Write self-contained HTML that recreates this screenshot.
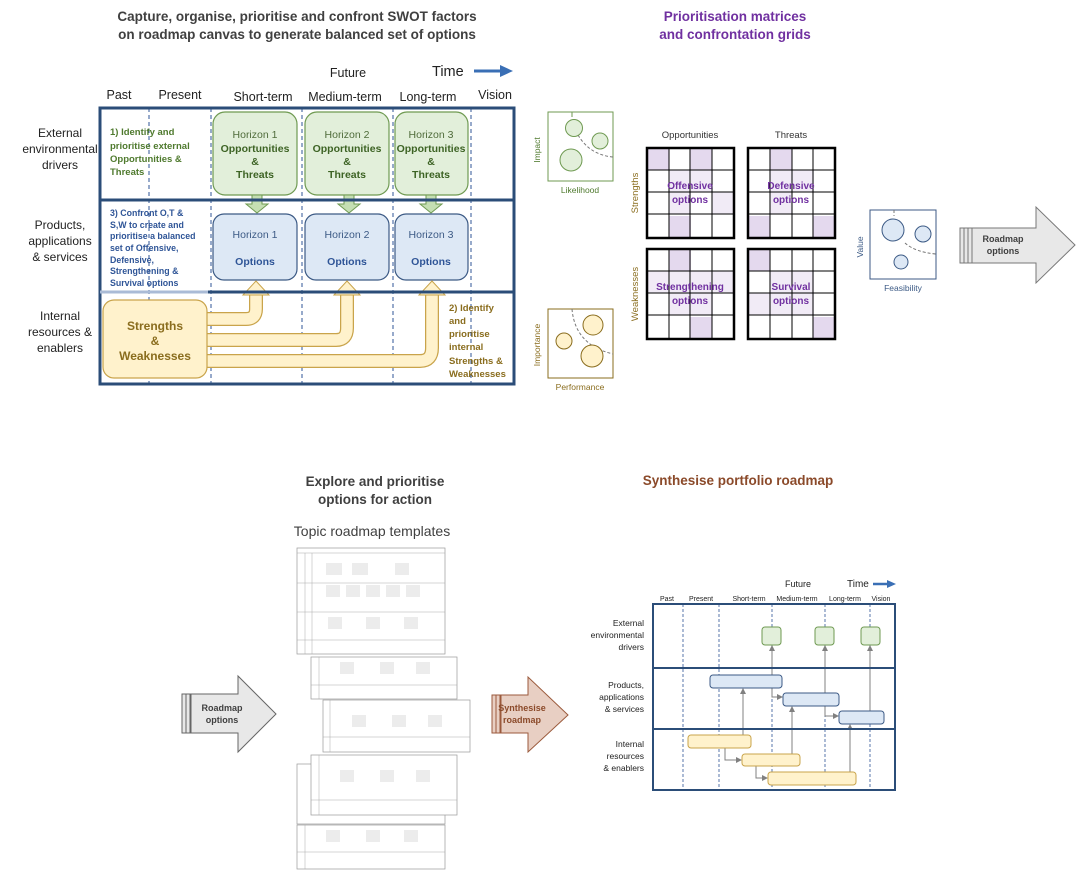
<!DOCTYPE html>
<html><head><meta charset="utf-8"><style>
body{margin:0;background:#fff}
svg{display:block;font-family:"Liberation Sans",sans-serif}
</style></head><body>
<svg width="1083" height="874" viewBox="0 0 1083 874" xmlns="http://www.w3.org/2000/svg">
<defs>
<marker id="ga" markerWidth="6" markerHeight="6" refX="5" refY="3" orient="auto"><path d="M0,0L6,3L0,6z" fill="#808080"/></marker>
</defs>
<g font-weight="bold" font-size="13.5" fill="#404040" text-anchor="middle">
<text x="297" y="21">Capture, organise, prioritise and confront SWOT factors</text>
<text x="297" y="39">on roadmap canvas to generate balanced set of options</text>
<text x="375" y="486">Explore and prioritise</text>
<text x="375" y="504">options for action</text>
</g>
<g font-weight="bold" font-size="13.5" fill="#7030a0" text-anchor="middle">
<text x="735" y="21">Prioritisation matrices</text>
<text x="735" y="39">and confrontation grids</text>
</g>
<text x="738" y="485" font-weight="bold" font-size="13.5" fill="#8b4a2a" text-anchor="middle">Synthesise portfolio roadmap</text>
<text x="372" y="536" font-size="14" fill="#404040" text-anchor="middle">Topic roadmap templates</text>

<g font-size="12.5" fill="#222" text-anchor="middle">
<text x="348" y="77">Future</text>
<text x="119" y="99">Past</text>
<text x="180" y="99">Present</text>
<text x="263" y="101">Short-term</text>
<text x="345" y="101">Medium-term</text>
<text x="428" y="101">Long-term</text>
<text x="495" y="99">Vision</text>
</g>
<text x="432" y="76" font-size="14.5" fill="#222">Time</text>
<line x1="474" y1="71" x2="503" y2="71" stroke="#3a6fb5" stroke-width="3"/>
<path d="M500,65L513,71L500,77z" fill="#3a6fb5"/>
<g font-size="12" fill="#222" text-anchor="middle">
<text x="60" y="137">External</text><text x="60" y="153">environmental</text><text x="60" y="169">drivers</text>
<text x="60" y="229">Products,</text><text x="60" y="245">applications</text><text x="60" y="261">&amp; services</text>
<text x="60" y="320">Internal</text><text x="60" y="336">resources &amp;</text><text x="60" y="352">enablers</text>
</g>
<g stroke="#2f5597" stroke-width="1" stroke-dasharray="4,3">
<line x1="149" y1="108" x2="149" y2="384"/><line x1="211" y1="108" x2="211" y2="384"/>
<line x1="302" y1="108" x2="302" y2="384"/><line x1="393" y1="108" x2="393" y2="384"/>
<line x1="471" y1="108" x2="471" y2="384"/>
</g>
<g fill="#e2efda" stroke="#6f9a52" stroke-width="1.2">
<rect x="213" y="112" width="84" height="83" rx="12"/>
<rect x="305" y="112" width="84" height="83" rx="12"/>
<rect x="395" y="112" width="73" height="83" rx="12"/>
</g>
<g fill="#c5dfb3" stroke="#6f9a52" stroke-width="1">
<path d="M252,195h10v9h6l-11,9l-11,-9h6z"/>
<path d="M344,195h10v9h6l-11,9l-11,-9h6z"/>
<path d="M426,195h10v9h6l-11,9l-11,-9h6z"/>
</g>
<g fill="#dde8f5" stroke="#3c5a85" stroke-width="1.2">
<rect x="213" y="214" width="84" height="66" rx="11"/>
<rect x="305" y="214" width="84" height="66" rx="11"/>
<rect x="395" y="214" width="73" height="66" rx="11"/>
</g>
<g font-size="10.5" text-anchor="middle">
<g fill="#4f6b3a"><text x="255" y="138">Horizon 1</text><text x="347" y="138">Horizon 2</text><text x="431" y="138">Horizon 3</text></g>
<g fill="#3d6324" font-weight="bold">
<text x="255" y="152">Opportunities</text><text x="255" y="165">&amp;</text><text x="255" y="178">Threats</text>
<text x="347" y="152">Opportunities</text><text x="347" y="165">&amp;</text><text x="347" y="178">Threats</text>
<text x="431" y="152">Opportunities</text><text x="431" y="165">&amp;</text><text x="431" y="178">Threats</text>
</g>
<g fill="#3c5a85"><text x="255" y="238">Horizon 1</text><text x="347" y="238">Horizon 2</text><text x="431" y="238">Horizon 3</text></g>
<g fill="#2f5597" font-weight="bold"><text x="255" y="265">Options</text><text x="347" y="265">Options</text><text x="431" y="265">Options</text></g>
</g>
<g fill="none" stroke-linejoin="round">
<path d="M205,319H246Q256,319 256,309V293" stroke="#c9a44b" stroke-width="14"/>
<path d="M205,340H336Q347,340 347,328V293" stroke="#c9a44b" stroke-width="14"/>
<path d="M205,361H420Q432,361 432,348V293" stroke="#c9a44b" stroke-width="14"/>
<path d="M205,319H246Q256,319 256,309V293" stroke="#fff2cc" stroke-width="11.5"/>
<path d="M205,340H336Q347,340 347,328V293" stroke="#fff2cc" stroke-width="11.5"/>
<path d="M205,361H420Q432,361 432,348V293" stroke="#fff2cc" stroke-width="11.5"/>
</g>
<g fill="#fff2cc" stroke="#c9a44b" stroke-width="1">
<path d="M243,295L256,281L269,295z"/><path d="M334,295L347,281L360,295z"/><path d="M419,295L432,281L445,295z"/>
</g>
<rect x="103" y="300" width="104" height="78" rx="11" fill="#fff2cc" stroke="#c9a44b" stroke-width="1.2"/>
<g font-size="12" font-weight="bold" fill="#8a6d1e" text-anchor="middle">
<text x="155" y="330">Strengths</text><text x="155" y="345">&amp;</text><text x="155" y="360">Weaknesses</text>
</g>
<rect x="100" y="108" width="414" height="276" fill="none" stroke="#2b4d78" stroke-width="3"/>
<line x1="100" y1="200" x2="514" y2="200" stroke="#2b4d78" stroke-width="3"/>
<line x1="208" y1="292" x2="514" y2="292" stroke="#2b4d78" stroke-width="3"/>
<line x1="100" y1="292" x2="208" y2="292" stroke="#aabbd6" stroke-width="3"/>
<g font-size="9.5" font-weight="bold" fill="#4f7a2e">
<text x="110" y="135">1) Identify and</text><text x="110" y="149">prioritise external</text><text x="110" y="162">Opportunities &amp;</text><text x="110" y="175">Threats</text>
</g>
<g font-size="8.8" font-weight="bold" fill="#2f5597">
<text x="110" y="216">3) Confront O,T &amp;</text><text x="110" y="228">S,W to create and</text><text x="110" y="239">prioritise a balanced</text><text x="110" y="251">set of  Offensive,</text><text x="110" y="263">Defensive,</text><text x="110" y="274">Strengthening &amp;</text><text x="110" y="286">Survival options</text>
</g>
<g font-size="9.5" font-weight="bold" fill="#8a6d1e">
<text x="449" y="311">2) Identify</text><text x="449" y="324">and</text><text x="449" y="337">prioritise</text><text x="449" y="350">internal</text><text x="449" y="364">Strengths &amp;</text><text x="449" y="377">Weaknesses</text>
</g>

<rect x="548" y="112" width="65" height="69" fill="#fff" stroke="#6f9a52" stroke-width="1"/>
<path d="M572,112v5" stroke="#6f9a52" fill="none"/>
<path d="M578,135Q590,155 613,157" stroke="#777" fill="none" stroke-dasharray="3,2"/>
<g fill="#e2efda" stroke="#6f9a52"><circle cx="574" cy="128" r="8.5"/><circle cx="600" cy="141" r="8"/><circle cx="571" cy="160" r="11"/></g>
<text x="580" y="193" font-size="8.5" fill="#4f7a2e" text-anchor="middle">Likelihood</text>
<text transform="translate(540,150) rotate(-90)" font-size="8.5" fill="#4f7a2e" text-anchor="middle">Impact</text>

<rect x="548" y="309" width="65" height="69" fill="#fff" stroke="#8a6d1e" stroke-width="1"/>
<path d="M572,309Q575,345 613,354" stroke="#777" fill="none" stroke-dasharray="3,2"/>
<g fill="#fff2cc" stroke="#8a6d1e"><circle cx="593" cy="325" r="10"/><circle cx="564" cy="341" r="8"/><circle cx="592" cy="356" r="11"/></g>
<text x="580" y="390" font-size="8.5" fill="#8a6d1e" text-anchor="middle">Performance</text>
<text transform="translate(540,345) rotate(-90)" font-size="8.5" fill="#8a6d1e" text-anchor="middle">Importance</text>

<g font-size="9.5" fill="#333" text-anchor="middle"><text x="690" y="138">Opportunities</text><text x="791" y="138">Threats</text></g>
<g font-size="9.5" fill="#8a6d1e" text-anchor="middle">
<text transform="translate(638,193) rotate(-90)">Strengths</text>
<text transform="translate(638,294) rotate(-90)">Weaknesses</text>
</g>
<g fill="#e4d9ee">
<rect x="647" y="148" width="22" height="22"/><rect x="690" y="148" width="22" height="22"/><rect x="669" y="216" width="22" height="22"/>
<rect x="770" y="148" width="22" height="22"/><rect x="748" y="216" width="22" height="22"/><rect x="813" y="216" width="22" height="22"/>
<rect x="669" y="249" width="22" height="22"/><rect x="690" y="317" width="22" height="22"/>
<rect x="748" y="249" width="22" height="22"/><rect x="813" y="317" width="22" height="22"/>
</g>
<g fill="#f1ebf6">
<rect x="669" y="170" width="44" height="22"/><rect x="669" y="192" width="22" height="22"/><rect x="712" y="192" width="22" height="22"/>
<rect x="770" y="170" width="44" height="22"/><rect x="770" y="192" width="22" height="22"/>
<rect x="647" y="271" width="87" height="22"/><rect x="669" y="293" width="44" height="22"/>
<rect x="770" y="271" width="44" height="22"/><rect x="748" y="293" width="66" height="22"/>
</g>
<g fill="none" stroke="#000" stroke-width="1">
<path d="M669,148v90M690,148v90M712,148v90M647,170h87M647,192h87M647,214h87"/>
<path d="M770,148v90M792,148v90M813,148v90M748,170h87M748,192h87M748,214h87"/>
<path d="M669,249v90M690,249v90M712,249v90M647,271h87M647,293h87M647,315h87"/>
<path d="M770,249v90M792,249v90M813,249v90M748,271h87M748,293h87M748,315h87"/>
</g>
<g fill="none" stroke="#000" stroke-width="2.5">
<rect x="647" y="148" width="87" height="90"/><rect x="748" y="148" width="87" height="90"/>
<rect x="647" y="249" width="87" height="90"/><rect x="748" y="249" width="87" height="90"/>
</g>
<g font-size="10" font-weight="bold" fill="#7030a0" text-anchor="middle">
<text x="690" y="189">Offensive</text><text x="690" y="203">options</text>
<text x="791" y="189">Defensive</text><text x="791" y="203">options</text>
<text x="690" y="290">Strengthening</text><text x="690" y="304">options</text>
<text x="791" y="290">Survival</text><text x="791" y="304">options</text>
</g>
<rect x="870" y="210" width="66" height="69" fill="#fff" stroke="#3c5a85"/>
<path d="M894,210v6M905,243Q915,252 936,254" stroke="#777" fill="none" stroke-dasharray="3,2"/>
<g fill="#dde8f5" stroke="#3c5a85"><circle cx="893" cy="230" r="11"/><circle cx="923" cy="234" r="8"/><circle cx="901" cy="262" r="7"/></g>
<text x="903" y="291" font-size="8.5" fill="#3c5a85" text-anchor="middle">Feasibility</text>
<text transform="translate(863,247) rotate(-90)" font-size="8.5" fill="#3c5a85" text-anchor="middle">Value</text>
<g fill="#e8e8e8" stroke="#777" stroke-width="1">
<rect x="960" y="228" width="4" height="35"/><rect x="964" y="228" width="4" height="35"/><rect x="968" y="228" width="4" height="35"/>
<path d="M972,228H1036V207L1075,245L1036,283V263H972z"/>
</g>
<g font-size="9" font-weight="bold" fill="#404040" text-anchor="middle"><text x="1003" y="242">Roadmap</text><text x="1003" y="254">options</text></g>

<g fill="#e8e8e8" stroke="#666" stroke-width="1">
<rect x="182" y="694" width="4" height="39"/><rect x="186" y="694" width="4" height="39"/>
<path d="M191,694H238V676L276,714L238,752V733H191z"/>
</g>
<g font-size="9" font-weight="bold" fill="#404040" text-anchor="middle"><text x="222" y="711">Roadmap</text><text x="222" y="723">options</text></g>
<g fill="#e8cfc3" stroke="#9b5a3c" stroke-width="1">
<rect x="492" y="695" width="4" height="38"/><rect x="496" y="695" width="4" height="38"/>
<path d="M501,695H528V677L568,715L528,752V733H501z"/>
</g>
<g font-size="9" font-weight="bold" fill="#8b4a2a" text-anchor="middle"><text x="522" y="711">Synthesise</text><text x="522" y="723">roadmap</text></g>

<g stroke="#999" stroke-width="0.7" fill="#fff">
<rect x="297" y="825" width="148" height="44"/>
<rect x="297" y="764" width="148" height="60"/>
<rect x="311" y="755" width="146" height="60"/>
<rect x="323" y="700" width="147" height="52"/>
<rect x="311" y="657" width="146" height="42"/>
<rect x="297" y="548" width="148" height="106"/>
</g>
<g fill="#ececec">
<rect x="326" y="563" width="16" height="12"/><rect x="352" y="563" width="16" height="12"/><rect x="395" y="563" width="14" height="12"/>
<rect x="326" y="585" width="14" height="12"/><rect x="346" y="585" width="14" height="12"/><rect x="366" y="585" width="14" height="12"/><rect x="386" y="585" width="14" height="12"/><rect x="406" y="585" width="14" height="12"/>
<rect x="328" y="617" width="14" height="12"/><rect x="366" y="617" width="14" height="12"/><rect x="404" y="617" width="14" height="12"/>
<rect x="340" y="662" width="14" height="12"/><rect x="380" y="662" width="14" height="12"/><rect x="416" y="662" width="14" height="12"/>
<rect x="352" y="715" width="14" height="12"/><rect x="392" y="715" width="14" height="12"/><rect x="428" y="715" width="14" height="12"/>
<rect x="340" y="770" width="14" height="12"/><rect x="380" y="770" width="14" height="12"/><rect x="416" y="770" width="14" height="12"/>
<rect x="326" y="830" width="14" height="12"/><rect x="366" y="830" width="14" height="12"/><rect x="404" y="830" width="14" height="12"/>
</g>
<g stroke="#aaa" stroke-width="0.5" fill="none">
<path d="M297,553H445M305,553V654M312,553V654M297,583H445M297,612H445M297,640H445"/>
<path d="M311,685H457M319,657V699M323,737H470M330,700V752M311,800H457M319,755V815M297,852H445M305,825V869"/>
</g>

<g font-size="7" fill="#222" text-anchor="middle">
<text x="667" y="601">Past</text><text x="701" y="601">Present</text><text x="749" y="601">Short-term</text><text x="797" y="601">Medium-term</text><text x="845" y="601">Long-term</text><text x="881" y="601">Vision</text>
</g>
<text x="798" y="587" font-size="9" fill="#222" text-anchor="middle">Future</text>
<text x="847" y="587" font-size="10" fill="#222">Time</text>
<line x1="873" y1="584" x2="889" y2="584" stroke="#3a6fb5" stroke-width="2.5"/>
<path d="M887,580L896,584L887,588z" fill="#3a6fb5"/>
<g font-size="8.5" fill="#222" text-anchor="end">
<text x="644" y="626">External</text><text x="644" y="638">environmental</text><text x="644" y="650">drivers</text>
<text x="644" y="688">Products,</text><text x="644" y="700">applications</text><text x="644" y="712">&amp; services</text>
<text x="644" y="747">Internal</text><text x="644" y="759">resources</text><text x="644" y="771">&amp; enablers</text>
</g>
<g stroke="#2f5597" stroke-width="0.8" stroke-dasharray="3,2">
<line x1="683" y1="604" x2="683" y2="790"/><line x1="719" y1="604" x2="719" y2="790"/><line x1="772" y1="604" x2="772" y2="790"/><line x1="825" y1="604" x2="825" y2="790"/><line x1="870" y1="604" x2="870" y2="790"/>
</g>
<g stroke="#808080" stroke-width="1" fill="none" marker-end="url(#ga)">
<path d="M743,735V689"/><path d="M792,754V707"/><path d="M850,772V725"/>
<path d="M772,675V646"/><path d="M825,693V646"/><path d="M870,711V646"/>
<path d="M772,688V697H782"/><path d="M825,706V716H838"/>
<path d="M725,748V760H741"/><path d="M756,766V778H767"/>
</g>
<g fill="#e2efda" stroke="#6f9a52"><rect x="762" y="627" width="19" height="18" rx="3"/><rect x="815" y="627" width="19" height="18" rx="3"/><rect x="861" y="627" width="19" height="18" rx="3"/></g>
<g fill="#dde8f5" stroke="#3c5a85"><rect x="710" y="675" width="72" height="13" rx="3"/><rect x="783" y="693" width="56" height="13" rx="3"/><rect x="839" y="711" width="45" height="13" rx="3"/></g>
<g fill="#fff2cc" stroke="#c9a44b"><rect x="688" y="735" width="63" height="13" rx="3"/><rect x="742" y="754" width="58" height="12" rx="3"/><rect x="768" y="772" width="88" height="13" rx="3"/></g>
<rect x="653" y="604" width="242" height="186" fill="none" stroke="#2b4d78" stroke-width="2"/>
<line x1="653" y1="668" x2="895" y2="668" stroke="#2b4d78" stroke-width="2"/>
<line x1="653" y1="729" x2="895" y2="729" stroke="#2b4d78" stroke-width="2"/>
</svg>
</body></html>
